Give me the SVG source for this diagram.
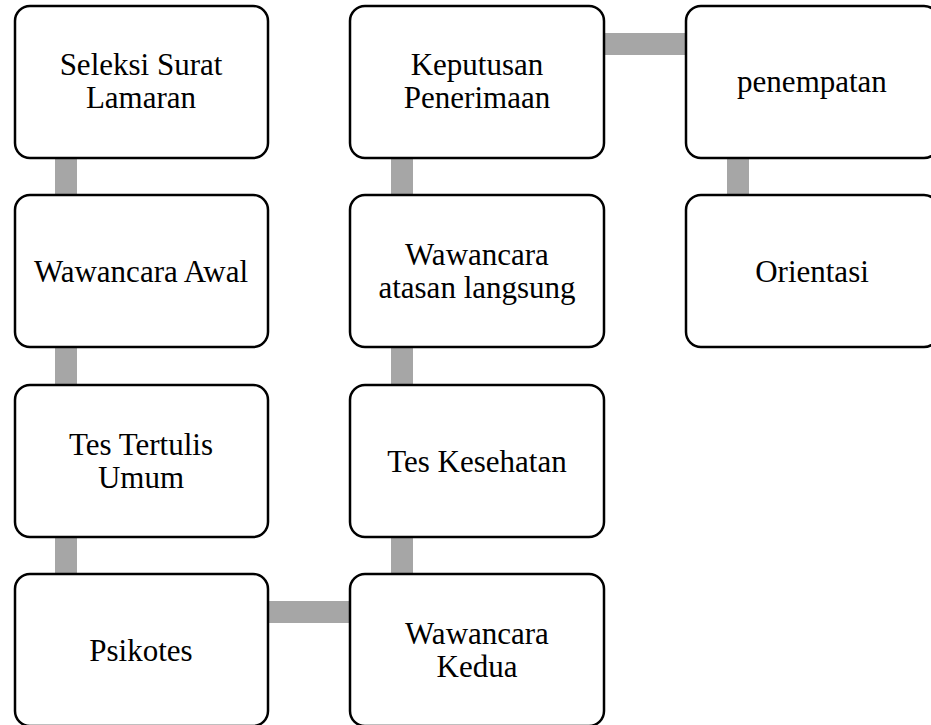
<svg xmlns="http://www.w3.org/2000/svg" width="931" height="725" viewBox="0 0 931 725">
<style>
.box{fill:#fff;stroke:#000;stroke-width:2.5}
.c{fill:#a6a6a6}
text{font-family:"Liberation Serif","Times New Roman",serif;font-size:31px;fill:#000;text-anchor:middle}
</style>
<rect width="931" height="725" fill="#fff"/>
<g id="connectors">
<rect class="c" x="55" y="158" width="22" height="38"/>
<rect class="c" x="55" y="347" width="22" height="38"/>
<rect class="c" x="55" y="537" width="22" height="38"/>
<rect class="c" x="268" y="601" width="82" height="22"/>
<rect class="c" x="391" y="537" width="22" height="38"/>
<rect class="c" x="391" y="347" width="22" height="38"/>
<rect class="c" x="391" y="158" width="22" height="38"/>
<rect class="c" x="604" y="33" width="82" height="22"/>
<rect class="c" x="727" y="158" width="22" height="38"/>
</g>
<g id="n1"><rect class="box" x="15" y="6" width="253" height="152" rx="15"/><text x="141" y="75">Seleksi Surat</text><text x="141" y="108">Lamaran</text></g>
<g id="n2"><rect class="box" x="15" y="195" width="253" height="152" rx="15"/><text x="141" y="282">Wawancara Awal</text></g>
<g id="n3"><rect class="box" x="15" y="385" width="253" height="152" rx="15"/><text x="141" y="455">Tes Tertulis</text><text x="141" y="488">Umum</text></g>
<g id="n4"><rect class="box" x="15" y="574" width="253" height="152" rx="15"/><text x="141" y="661">Psikotes</text></g>
<g id="n5"><rect class="box" x="350" y="574" width="254" height="152" rx="15"/><text x="477" y="644">Wawancara</text><text x="477" y="677">Kedua</text></g>
<g id="n6"><rect class="box" x="350" y="385" width="254" height="152" rx="15"/><text x="477" y="472">Tes Kesehatan</text></g>
<g id="n7"><rect class="box" x="350" y="195" width="254" height="152" rx="15"/><text x="477" y="265">Wawancara</text><text x="477" y="298">atasan langsung</text></g>
<g id="n8"><rect class="box" x="350" y="6" width="254" height="152" rx="15"/><text x="477" y="75">Keputusan</text><text x="477" y="108">Penerimaan</text></g>
<g id="n9"><rect class="box" x="686" y="6" width="253" height="152" rx="15"/><text x="812" y="92">penempatan</text></g>
<g id="n10"><rect class="box" x="686" y="195" width="253" height="152" rx="15"/><text x="812" y="282">Orientasi</text></g>
</svg>
